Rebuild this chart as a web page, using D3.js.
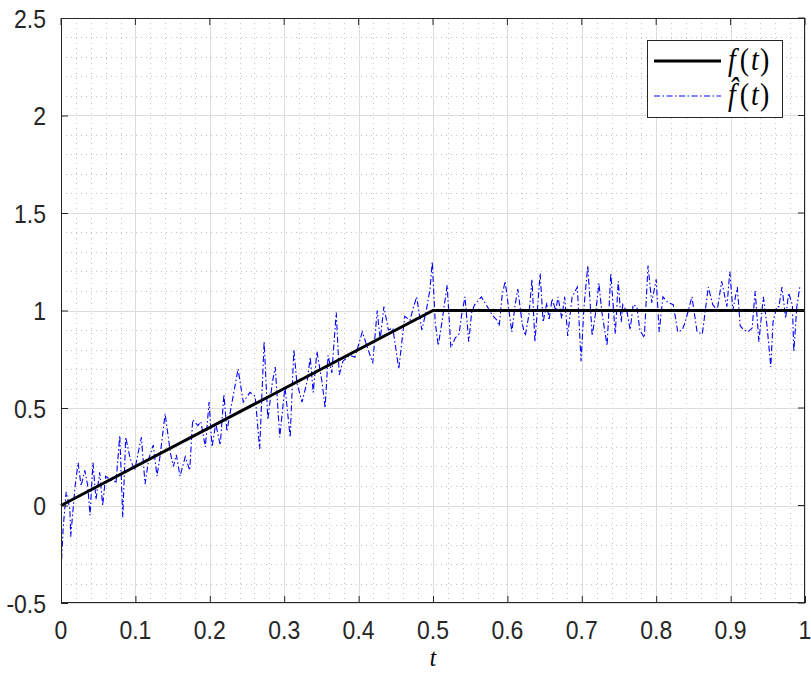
<!DOCTYPE html>
<html><head><meta charset="utf-8">
<script src="https://cdn.jsdelivr.net/npm/d3@7"></script>
<style>body{margin:0;background:#fff}</style>
</head><body>
<svg id="chart" width="811" height="673"></svg>
<script>
// exact function f(t)
const fT = [0, 0.5, 1];
const fV = [0, 1, 1];
// noisy estimate f-hat(t)
const hatT = [0,0.003,0.007,0.012,0.013,0.019,0.023,0.027,0.032,0.036,0.039,0.043,0.047,0.052,0.056,0.060,0.067,0.074,0.079,0.083,0.087,0.093,0.099,0.108,0.113,0.118,0.124,0.129,0.133,0.140,0.147,0.151,0.155,0.160,0.167,0.173,0.177,0.184,0.188,0.194,0.199,0.203,0.208,0.214,0.219,0.223,0.228,0.238,0.245,0.254,0.261,0.267,0.273,0.278,0.284,0.288,0.294,0.301,0.308,0.313,0.317,0.324,0.331,0.335,0.339,0.344,0.351,0.355,0.359,0.364,0.370,0.374,0.379,0.388,0.395,0.405,0.411,0.419,0.425,0.429,0.434,0.440,0.446,0.454,0.462,0.469,0.474,0.478,0.485,0.491,0.496,0.499,0.503,0.507,0.512,0.519,0.524,0.530,0.535,0.539,0.543,0.548,0.552,0.556,0.565,0.573,0.579,0.586,0.589,0.593,0.597,0.601,0.606,0.610,0.614,0.620,0.624,0.629,0.633,0.637,0.644,0.648,0.653,0.656,0.660,0.665,0.668,0.673,0.677,0.681,0.687,0.694,0.699,0.703,0.708,0.714,0.719,0.723,0.727,0.734,0.739,0.745,0.749,0.753,0.755,0.761,0.765,0.769,0.774,0.778,0.784,0.789,0.794,0.800,0.804,0.809,0.816,0.823,0.829,0.835,0.839,0.848,0.855,0.862,0.866,0.870,0.876,0.882,0.888,0.895,0.899,0.903,0.909,0.913,0.918,0.923,0.929,0.933,0.938,0.944,0.949,0.954,0.957,0.962,0.965,0.969,0.974,0.978,0.983,0.985,0.989,0.993];
const hatV = [-0.34,-0.11,0.07,-0.02,-0.16,0.10,0.22,0.10,0.18,0.10,-0.05,0.22,0.03,0.17,0.00,0.15,0.13,0.12,0.36,-0.06,0.35,0.24,0.18,0.35,0.11,0.24,0.31,0.15,0.25,0.47,0.27,0.20,0.26,0.15,0.25,0.18,0.44,0.41,0.43,0.30,0.53,0.30,0.42,0.31,0.57,0.38,0.49,0.70,0.53,0.58,0.56,0.29,0.84,0.44,0.63,0.71,0.35,0.61,0.35,0.80,0.63,0.53,0.64,0.76,0.58,0.79,0.63,0.50,0.77,0.68,0.99,0.67,0.74,0.77,0.76,0.89,0.82,0.73,1.00,0.85,1.02,0.90,0.91,0.70,0.97,0.95,1.02,1.07,0.90,1.00,1.11,1.25,0.94,0.82,0.94,1.13,0.81,0.86,0.88,0.99,1.07,0.84,0.99,1.03,1.07,1.02,0.98,0.95,0.92,1.08,1.15,1.03,0.89,1.02,1.11,0.93,0.87,0.98,1.16,0.84,1.19,0.94,1.04,0.95,1.06,1.00,1.07,0.96,1.07,0.87,1.07,1.12,0.74,1.02,1.23,0.87,1.00,1.14,0.99,0.82,1.19,0.88,1.15,0.94,1.03,0.99,0.90,1.03,1.02,0.90,0.86,1.23,1.04,1.16,0.89,1.07,1.04,1.03,0.89,0.90,0.94,1.07,0.89,0.88,1.00,1.12,1.03,1.00,1.15,1.02,1.20,1.00,1.12,0.92,0.90,0.89,0.91,1.10,0.84,1.07,0.92,0.71,0.94,1.02,1.02,1.12,0.96,1.09,1.03,0.79,1.02,1.12];
const xTicks = [0,0.1,0.2,0.3,0.4,0.5,0.6,0.7,0.8,0.9,1];
const xTickLabels = ["0","0.1","0.2","0.3","0.4","0.5","0.6","0.7","0.8","0.9","1"];
const yTicks = [-0.5,0,0.5,1,1.5,2,2.5];
const yTickLabels = ["-0.5","0","0.5","1","1.5","2","2.5"];

const L = 61, R = 805, T = 18, B = 603;
const svg = d3.select("#chart");
const x = d3.scaleLinear().domain([0,1]).range([L,R]);
const y = d3.scaleLinear().domain([-0.5,2.5]).range([B,T]);

// minor grid
const xMinor = d3.range(0, 1.0001, 0.02).filter(v => Math.abs(v*10 - Math.round(v*10)) > 1e-6);
const yMinor = d3.range(-0.5, 2.5001, 0.1).filter(v => Math.abs(v*2 - Math.round(v*2)) > 1e-6);
const g = svg.append("g");
g.selectAll(".xm").data(xMinor).enter().append("line")
  .attr("x1", d => Math.round(x(d))+0.5).attr("x2", d => Math.round(x(d))+0.5)
  .attr("y1", T).attr("y2", B)
  .attr("stroke", "#c4c4c4").attr("stroke-width", 1).attr("stroke-dasharray", "1,4");
g.selectAll(".ym").data(yMinor).enter().append("line")
  .attr("y1", d => Math.round(y(d))+0.5).attr("y2", d => Math.round(y(d))+0.5)
  .attr("x1", L).attr("x2", R)
  .attr("stroke", "#c4c4c4").attr("stroke-width", 1).attr("stroke-dasharray", "1,4");
// major grid
g.selectAll(".xg").data(xTicks).enter().append("line")
  .attr("x1", d => Math.round(x(d))+0.5).attr("x2", d => Math.round(x(d))+0.5)
  .attr("y1", T).attr("y2", B).attr("stroke", "#dcdcdc").attr("stroke-width", 1);
g.selectAll(".yg").data(yTicks).enter().append("line")
  .attr("y1", d => Math.round(y(d))+0.5).attr("y2", d => Math.round(y(d))+0.5)
  .attr("x1", L).attr("x2", R).attr("stroke", "#dcdcdc").attr("stroke-width", 1);

// series
const clipId = "clipPlot";
svg.append("clipPath").attr("id", clipId).append("rect").attr("x", L).attr("y", T).attr("width", R-L).attr("height", B-T);
const hatData = hatT.map((t,i) => [t, hatV[i]]);
svg.append("path").datum(hatData)
  .attr("clip-path", `url(#${clipId})`)
  .attr("d", d3.line().x(d => x(d[0])).y(d => y(d[1])))
  .attr("fill", "none").attr("stroke", "#0000ff").attr("stroke-width", 1.1)
  .attr("stroke-dasharray", "6,2.5,1.5,2.5");
const fData = fT.map((t,i) => [t, fV[i]]);
svg.append("path").datum(fData)
  .attr("d", d3.line().x(d => x(d[0])).y(d => y(d[1])))
  .attr("fill", "none").attr("stroke", "#000").attr("stroke-width", 3);

// axes (ticks via d3 axes, labels drawn with vertical stretch)
const axCol = "#262626";
const xAxis = d3.axisBottom(x).tickValues(xTicks).tickFormat("").tickSizeInner(-7).tickSizeOuter(0);
const yAxis = d3.axisLeft(y).tickValues(yTicks).tickFormat("").tickSizeInner(-7).tickSizeOuter(0);
const gx = svg.append("g").attr("transform", `translate(0,${B})`).call(xAxis);
const gy = svg.append("g").attr("transform", `translate(${L},0)`).call(yAxis);
[gx, gy].forEach(a => {
  a.select(".domain").remove();
  a.selectAll("line").attr("stroke", axCol);
  a.selectAll("text").remove();
});
const lblFont = "'Liberation Sans', Arial, sans-serif";
svg.append("g").selectAll("text").data(xTicks).enter().append("text")
  .attr("transform", d => `translate(${x(d)},${639}) scale(1,1.15)`)
  .attr("text-anchor", "middle").attr("fill", axCol)
  .style("font-family", lblFont).style("font-size", "23px")
  .text((d,i) => xTickLabels[i]);
svg.append("g").selectAll("text").data(yTicks).enter().append("text")
  .attr("transform", d => `translate(${L-15},${y(d)+9.5}) scale(1,1.15)`)
  .attr("text-anchor", "end").attr("fill", axCol)
  .style("font-family", lblFont).style("font-size", "23px")
  .text((d,i) => yTickLabels[i]);
// top/right ticks
svg.append("g").selectAll("line").data(xTicks).enter().append("line")
  .attr("x1", d => x(d)).attr("x2", d => x(d)).attr("y1", T).attr("y2", T+7).attr("stroke", axCol);
svg.append("g").selectAll("line").data(yTicks).enter().append("line")
  .attr("y1", d => y(d)).attr("y2", d => y(d)).attr("x1", R).attr("x2", R-7).attr("stroke", axCol);
// box
svg.append("rect").attr("x", L+0.5).attr("y", T+0.5).attr("width", R-L-1).attr("height", B-T-1)
  .attr("fill", "none").attr("stroke", axCol).attr("stroke-width", 1);

// x label
svg.append("text").attr("transform", `translate(${x(0.5)},666) scale(1,1.05)`).attr("text-anchor", "middle")
  .style("font-family", "'Liberation Serif', 'DejaVu Serif', serif").style("font-style", "italic").style("font-size", "23px")
  .attr("fill", "#000").text("t");

// legend
const lg = svg.append("g");
lg.append("rect").attr("x", 647.5).attr("y", 40.5).attr("width", 135).attr("height", 77)
  .attr("fill", "#fff").attr("stroke", axCol).attr("stroke-width", 1);
lg.append("line").attr("x1", 654).attr("x2", 721).attr("y1", 61).attr("y2", 61).attr("stroke", "#000").attr("stroke-width", 3);
lg.append("line").attr("x1", 654).attr("x2", 721).attr("y1", 96).attr("y2", 96).attr("stroke", "#0000ff").attr("stroke-width", 1.1).attr("stroke-dasharray", "6,2.5,1.5,2.5");
function mathLabel(yy, fchar) {
  const t = lg.append("text").attr("transform", `translate(728,${yy}) scale(1,1.1)`)
    .style("font-family", "'Liberation Serif', 'DejaVu Serif', serif").style("font-size", "28px").attr("fill", "#000");
  t.append("tspan").style("font-style", "italic").text(fchar);
  t.append("tspan").attr("dx", 4).text("(");
  t.append("tspan").attr("dx", 2).style("font-style", "italic").text("t");
  t.append("tspan").attr("dx", 1).text(")");
}
mathLabel(70, "f");
mathLabel(105, "f\u0302");
</script>
</body></html>
